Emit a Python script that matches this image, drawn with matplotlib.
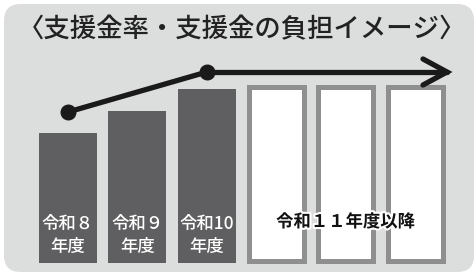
import matplotlib
matplotlib.use("Agg")
import matplotlib.pyplot as plt
from matplotlib.patches import FancyBboxPatch
import matplotlib.patheffects as pe

plt.rcParams['font.family'] = ['Noto Sans CJK JP', 'DejaVu Sans']

# data
title = "〈支援金率・支援金の負担イメージ〉"
past_labels = ["令和８\n年度", "令和９\n年度", "令和10\n年度"]
past_burden = [130, 152, 174]
future_label = "令和１１年度以降"
future_burden = [174, 174, 174]
rate_x = [0, 2]
rate_y = [151, 191]

BG = "#dcdddd"
DARK = "#5f5f61"
EDGE = "#8f8f90"

fig = plt.figure(figsize=(4.76, 2.75), dpi=100)
fig.patch.set_facecolor("white")

# rounded background box
box = FancyBboxPatch((4 / 476, 3 / 275), 470 / 476, 268 / 275,
                     boxstyle="round,pad=0,rounding_size=0.035",
                     transform=fig.transFigure, facecolor=BG, edgecolor="none",
                     mutation_aspect=476 / 275, zorder=-5)
fig.patches.append(box)

fig.text(242 / 476, 1 - 30 / 275, title, ha="center", va="center",
         fontsize=19, fontweight="medium", color="#222222")

ax = fig.add_axes([0, 0, 1, 1])
ax.set_facecolor("none")
ax.axis("off")
step = 69.4
ax.set_xlim(-68 / step, (476 - 68) / step)
ax.set_ylim(-12, 263)

n_past = len(past_burden)
xp = list(range(n_past))
xf = [n_past + i for i in range(len(future_burden))]

ax.bar(xp, past_burden, width=58 / step, color=DARK, zorder=2)
ax.bar(xf, future_burden, width=55 / step, bottom=2, color="white",
       edgecolor=EDGE, linewidth=3.6, zorder=2)

for x, lab in zip(xp, past_labels):
    ax.text(x, 28, lab, ha="center", va="center", color="white",
            fontsize=12.5, fontweight="medium", linespacing=1.35, zorder=3)

ax.text(sum(xf) / len(xf), 41, future_label, ha="center", va="center",
        color="#111111", fontsize=12.5, fontweight="bold", zorder=4,
        path_effects=[pe.withStroke(linewidth=3, foreground="white")])

# rate line
tip = (447 - 68) / step
ax.plot(rate_x, rate_y, color="#1a1a1a", lw=3.8, solid_capstyle="round", zorder=3)
ax.plot([rate_x[-1], tip], [rate_y[-1], rate_y[-1]], color="#1a1a1a", lw=3.8,
        solid_capstyle="round", zorder=3)
ax.plot(rate_x, rate_y, "o", color="#1a1a1a", ms=10.5, zorder=4)
arm_x = 24 / step
ax.plot([tip - arm_x, tip, tip - arm_x],
        [rate_y[-1] + 13, rate_y[-1], rate_y[-1] - 13],
        color="#1a1a1a", lw=3.8, solid_capstyle="round", solid_joinstyle="miter", zorder=3)

fig.savefig("out.png", dpi=100)
